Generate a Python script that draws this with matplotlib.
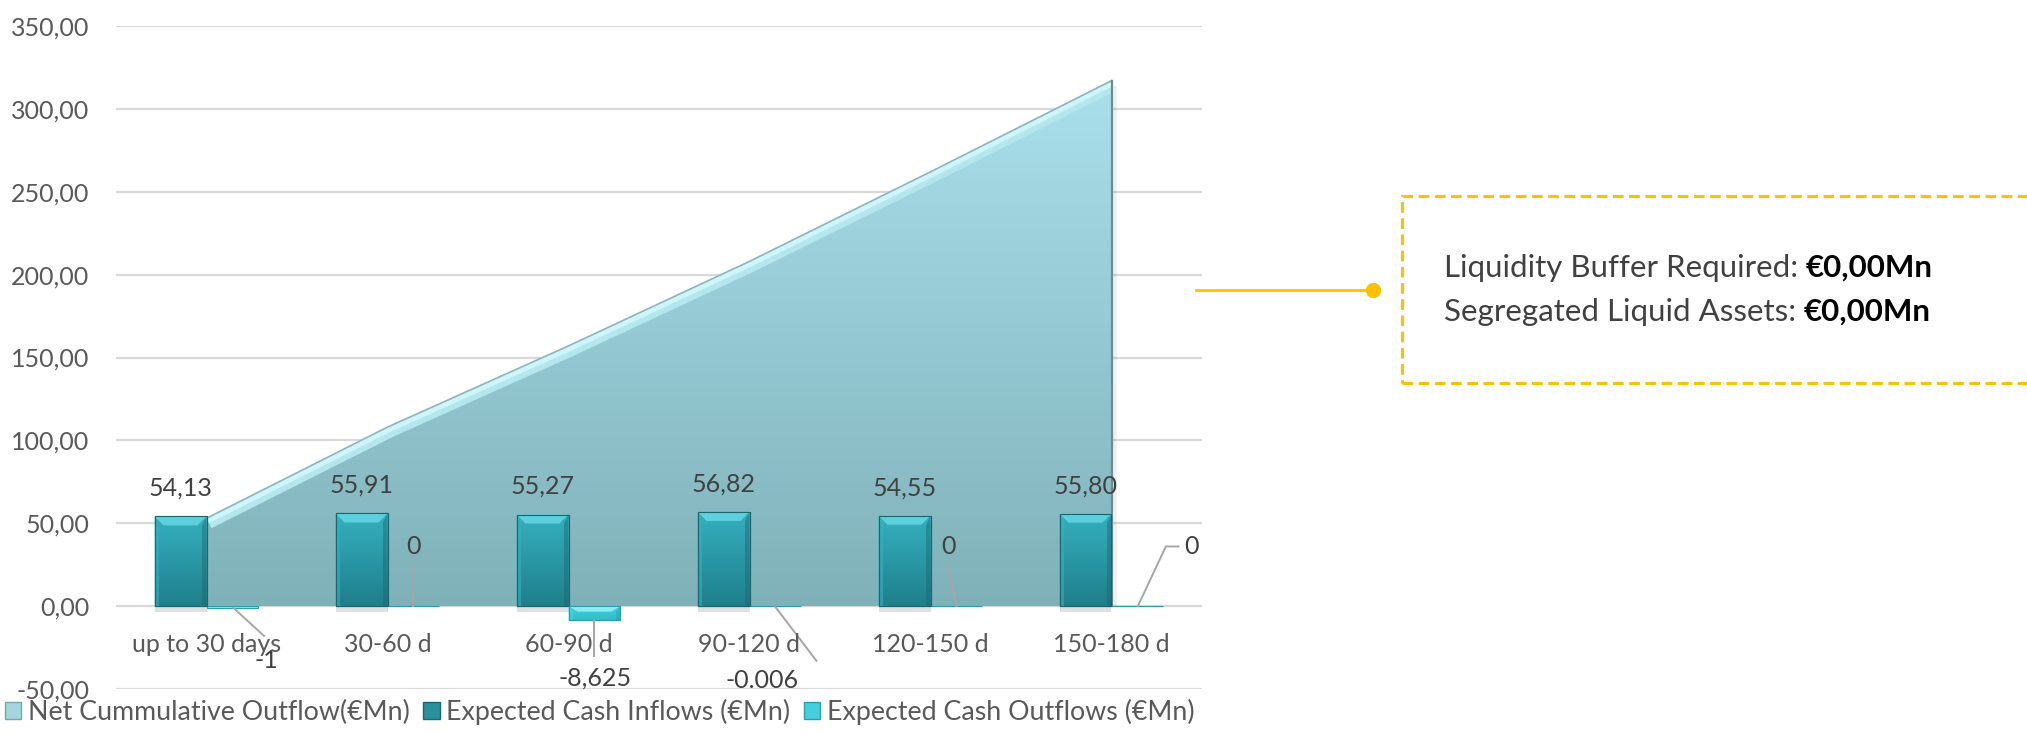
import numpy as np
import matplotlib
matplotlib.use('Agg')
import matplotlib.pyplot as plt
from matplotlib.colors import LinearSegmentedColormap
from matplotlib.patches import Polygon, Rectangle, Patch
from matplotlib.lines import Line2D

plt.rcParams['font.family'] = ['Lato', 'DejaVu Sans']

categories = ['up to 30 days', '30-60 d', '60-90 d', '90-120 d', '120-150 d', '150-180 d']
cash_inflows = [54.13, 55.91, 55.27, 56.82, 54.55, 55.80]
cash_outflows = [-1, 0, -8.625, -0.006, 0, 0]
outflow_labels = ['-1', '0', '-8,625', '-0.006', '0', '0']
net_cumulative = [53, 108, 157, 208, 262, 317]
y_ticks = [-50, 0, 50, 100, 150, 200, 250, 300, 350]
buffer_required = '€0,00Mn'
segregated_assets = '€0,00Mn'

W, H, DPI = 2027, 737, 100
BAR_W = 0.287
FS = 18
TICK_GREY = '#595959'
LABEL_GREY = '#404040'
LEADER = '#a6a6a6'
GOLD = '#FFC000'

# label centre, then leader polyline, for each outflow label (data units)
OUT_LABEL_POS = [
    ((0.33, -33), 'center', [(0.148, -1), (0.318, -18)]),
    ((1.143, 36), 'center', [(1.143, 24), (1.143, 0)]),
    ((2.146, -43.5), 'center', [(2.143, -8.6), (2.143, -30)]),
    ((3.07, -45), 'center', [(3.143, -0.5), (3.37, -33)]),
    ((4.10, 36), 'center', [(4.10, 24), (4.143, 0)]),
    ((5.40, 36), 'left', [(5.146, 0), (5.30, 36), (5.37, 36)]),
]


def gradient(ax, extent, bottom, top, clip, zorder):
    cmap = LinearSegmentedColormap.from_list('g', [bottom, top])
    img = ax.imshow(np.linspace(0, 1, 256).reshape(-1, 1), cmap=cmap,
                    origin='lower', extent=extent, aspect='auto',
                    interpolation='bicubic', zorder=zorder)
    if isinstance(clip, tuple):
        img.set_clip_path(*clip)
    else:
        img.set_clip_path(clip)
    return img


def bevel_bar(ax, rect, body_top, body_bottom, face, edge, dx, dy, zorder):
    x0 = rect.get_x()
    x1 = x0 + rect.get_width()
    h = rect.get_height()
    y_lo, y_hi = min(0, h), max(0, h)
    rect.set_facecolor(body_bottom)
    rect.set_edgecolor(edge)
    rect.set_linewidth(0.8)
    rect.set_zorder(zorder)
    if y_hi - y_lo < 2 * dy:
        rect.set_facecolor(face)
        return
    gradient(ax, (x0, x1, y_lo, y_hi), body_bottom, body_top, rect, zorder + 0.1)
    # top face of the bevel
    ax.add_patch(Polygon([(x0, y_hi), (x1, y_hi), (x1 - dx, y_hi - dy), (x0 + dx, y_hi - dy)],
                         closed=True, facecolor=face, edgecolor='none', zorder=zorder + 0.2))
    # darker right side, lighter left side
    ax.add_patch(Polygon([(x1, y_hi), (x1 - dx * 0.5, y_hi - dy), (x1 - dx * 0.5, y_lo), (x1, y_lo)],
                         closed=True, facecolor=edge, alpha=0.45, edgecolor='none', zorder=zorder + 0.2))
    ax.add_patch(Polygon([(x0, y_hi), (x0 + dx * 0.5, y_hi - dy), (x0 + dx * 0.5, y_lo), (x0, y_lo)],
                         closed=True, facecolor=body_top, alpha=0.6, edgecolor='none', zorder=zorder + 0.2))
    ax.add_patch(Rectangle((x0, y_lo), x1 - x0, y_hi - y_lo, fill=False,
                           edgecolor=edge, lw=0.8, zorder=zorder + 0.3))


fig = plt.figure(figsize=(W / DPI, H / DPI), dpi=DPI)
ax = fig.add_axes([116 / W, 1 - 689 / H, (1202 - 116) / W, (689 - 26) / H])
ax.set_xlim(-0.5, 5.5)
ax.set_ylim(-50, 350)

x = np.arange(len(categories))
px_x = (1202 - 116) / 6.0
px_y = (689 - 26) / 400.0
dx, dy = 9 / px_x, 9 / px_y

# cumulative net outflow area
area = ax.fill_between(x, net_cumulative, 0, facecolor='#93c6cd', edgecolor='none', zorder=2)
area_path = area.get_paths()[0]
gradient(ax, (0, 5, 0, max(net_cumulative)), '#7fb1b8', '#aae0ec', (area_path, ax.transData), 2.1)
for lw, col in [(16, '#b4e6ee'), (8, '#cdf5fa')]:
    ln, = ax.plot(x, net_cumulative, color=col, lw=lw, solid_capstyle='butt', zorder=2.2)
    ln.set_clip_path(area_path, ax.transData)
ax.plot(x, net_cumulative, color='#8fb4b9', lw=1.2, zorder=2.3)
ax.plot([5, 5], [0, net_cumulative[-1]], color='#6b8d92', lw=1.6, zorder=2.3)
ax.fill_between([5, 5.03], [net_cumulative[-1] - 3, net_cumulative[-1] - 3], 0,
                color='#000000', alpha=0.06, lw=0, zorder=1.9)

# expected cash inflow / outflow bars
in_bars = ax.bar(x - BAR_W / 2, cash_inflows, width=BAR_W)
out_bars = ax.bar(x + BAR_W / 2, cash_outflows, width=BAR_W)
for r in in_bars:
    ax.add_patch(Rectangle((r.get_x(), -3.5), r.get_width(), 3.5, color='black', alpha=0.12, lw=0, zorder=2.5))
    bevel_bar(ax, r, '#35b0bf', '#1f7f8b', '#5cd0dc', '#1b6770', dx, dy, 3)
for r in out_bars:
    bevel_bar(ax, r, '#46d3df', '#33bccb', '#8cecf3', '#2a9eab', dx, dy * 0.6, 3)

for i, v in enumerate(cash_inflows):
    ax.annotate(f'{v:.2f}'.replace('.', ','), (i - BAR_W / 2, v), xytext=(0, 28),
                textcoords='offset pixels', ha='center', va='center',
                fontsize=FS, color=LABEL_GREY, zorder=6)

for lab, ((lx, ly), ha, leader) in zip(outflow_labels, OUT_LABEL_POS):
    xs, ys = zip(*leader)
    ax.plot(xs, ys, color=LEADER, lw=1.4, zorder=5)
    ax.text(lx, ly, lab, ha=ha, va='center', fontsize=FS, color=LABEL_GREY, zorder=6)

for i, c in enumerate(categories):
    ax.text(i, -23, c, ha='center', va='center', fontsize=FS, color=TICK_GREY, zorder=6)

ax.set_yticks(y_ticks)
ax.set_yticklabels([f'{v:.2f}'.replace('.', ',') for v in y_ticks])
ax.tick_params(axis='y', length=0, pad=19, labelsize=FS, labelcolor=TICK_GREY)
ax.set_xticks([])
ax.yaxis.grid(True, color='#d9d9d9', lw=1.6)
ax.set_axisbelow(True)
for s in ax.spines.values():
    s.set_visible(False)

handles = [Patch(facecolor='#a3d6df', edgecolor='#7aa5ab'),
           Patch(facecolor='#2a909d', edgecolor='#1b6770'),
           Patch(facecolor='#45cfdc', edgecolor='#2a9eab')]
fig.legend(handles, ['Net Cummulative Outflow(€Mn)', 'Expected Cash Inflows (€Mn)',
                     'Expected Cash Outflows (€Mn)'],
           loc='center left', bbox_to_anchor=(0.0, 1 - 712 / H), ncol=3, frameon=False,
           fontsize=19.3, labelcolor=TICK_GREY, handlelength=0.6, handleheight=0.6,
           handletextpad=0.25, columnspacing=0.5, borderaxespad=0, borderpad=0.2)

# buffer summary box with connector
fig.add_artist(Rectangle((1402 / W, 1 - 383 / H), 0.4, (383 - 196) / H, transform=fig.transFigure,
                         fill=False, edgecolor=GOLD, lw=2.2, ls=(0, (3.5, 1.8))))
fig.add_artist(Line2D([1196 / W, 1373 / W], [1 - 290 / H] * 2, transform=fig.transFigure,
                      color=GOLD, lw=2))
fig.add_artist(Line2D([1373 / W], [1 - 290 / H], transform=fig.transFigure, marker='o',
                      markersize=10, color=GOLD))

fig.canvas.draw()
renderer = fig.canvas.get_renderer()
for yy, head, val in [(268, 'Liquidity Buffer Required: ', buffer_required),
                      (312, 'Segregated Liquid Assets: ', segregated_assets)]:
    t = fig.text(1444 / W, 1 - yy / H, head, ha='left', va='center', fontsize=22.5, color=LABEL_GREY)
    bb = t.get_window_extent(renderer)
    fig.text(bb.x1 / W, 1 - yy / H, val, ha='left', va='center', fontsize=22.5,
             fontweight='bold', color='black')

fig.savefig('out.png', dpi=DPI)
